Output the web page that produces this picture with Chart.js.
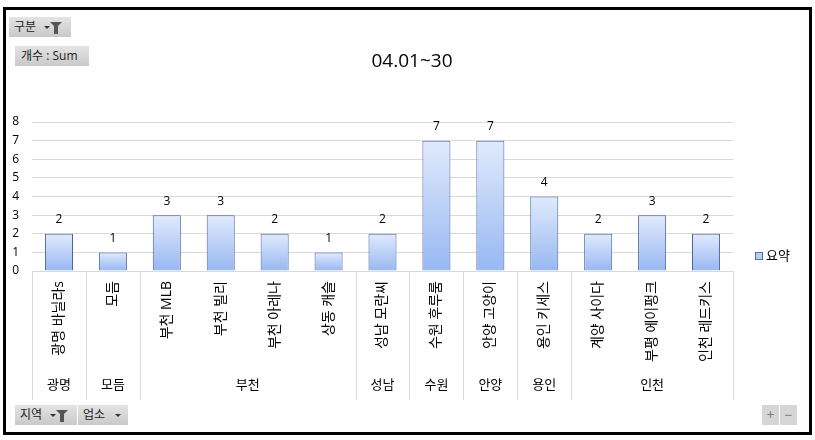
<!DOCTYPE html>
<html>
<head>
<meta charset="utf-8">
<script src="https://cdn.jsdelivr.net/npm/chart.js@4"></script>
<style>
  body { margin: 0; background: #fff; }
  #wrap { position: relative; width: 815px; height: 440px; overflow: hidden; font-family: 'Open Sans', 'Noto Sans CJK KR', sans-serif; }
  #c { position: absolute; left: 0; top: 0; }
  .frame { position: absolute; left: 3px; top: 7px; width: 809px; height: 428px; box-sizing: border-box; border: 3.5px solid #000; pointer-events: none; }
  .btn { position: absolute; box-sizing: border-box; height: 20px; font-size: 12px; line-height: 20px; color: #222;
         background: linear-gradient(#e4e4e4, #c9c9c9); padding-left: 5px; white-space: nowrap; }
  .arrow { display: inline-block; width: 0; height: 0; border-left: 3px solid transparent; border-right: 3px solid transparent;
           border-top: 3px solid #333; vertical-align: middle; margin-left: 8px; }
  .funnel { display: inline-block; position: relative; width: 0; height: 0; border-left: 6px solid transparent; border-right: 6px solid transparent;
            border-top: 6px solid #555; vertical-align: middle; margin-top: -6px; }
  .funnel:after { content: ''; position: absolute; left: -2px; top: -2px; width: 4px; height: 8px; background: #555; }
  .zoom { position: absolute; top: 405px; width: 17px; height: 20px; background: #d6d6d6; color: #7a7a7a; font-size: 14px; line-height: 19px; text-align: center; }
</style>
</head>
<body>
<div id="wrap">
  <canvas id="c" width="815" height="440"></canvas>
  <div class="btn" style="left:9px;top:17px;width:62px;">구분<span class="arrow"></span><span class="funnel"></span></div>
  <div class="btn" style="left:15px;top:46px;width:74px;padding-left:6px;">개수 : Sum</div>
  <div class="btn" style="left:15px;top:405px;width:62px;">지역<span class="arrow"></span><span class="funnel"></span></div>
  <div class="btn" style="left:78px;top:405px;width:50px;">업소<span class="arrow" style="margin-left:10px"></span></div>
  <div class="zoom" style="left:762px;">+</div>
  <div class="zoom" style="left:780px;">−</div>
  <div class="frame"></div>
</div>
<script>
const shops = ['광명 바닐라s', '모듬', '부천 MLB', '부천 빌리', '부천 아레나', '상동 캐슬', '성남 모란씨',
               '수원 후루룸', '안양 고양이', '용인 키세스', '계양 사이다', '부평 에이펑크', '인천 레드키스'];
const counts = [2, 1, 3, 3, 2, 1, 2, 7, 7, 4, 2, 3, 2];
const regions = ['광명', '모듬', '부천', '성남', '수원', '안양', '용인', '인천'];
const regionSizes = [1, 1, 4, 1, 1, 1, 1, 3];
const yTicks = [0, 1, 2, 3, 4, 5, 6, 7, 8];
const seriesName = '요약';
const titleText = '04.01~30';

const FONT = "'Open Sans', 'Noto Sans CJK KR', sans-serif";

function barFill(ctx) {
    const chart = ctx.chart;
    const y = chart.scales.y;
    if (!y || ctx.raw == null) return '#b7cff7';
    const top = y.getPixelForValue(ctx.raw);
    const bottom = y.getPixelForValue(0);
    if (!isFinite(top) || !isFinite(bottom) || top === bottom) return '#b7cff7';
    const g = chart.ctx.createLinearGradient(0, top, 0, bottom);
    g.addColorStop(0, '#e1eafc');
    g.addColorStop(1, '#97b8f2');
    return g;
}

// title, values above bars, region row under the shop names, legend on the right
const extras = {
    id: 'extras',
    afterDatasetsDraw(chart) {
        const ctx = chart.ctx;
        ctx.save();
        ctx.fillStyle = '#000';
        ctx.font = '12px ' + FONT;
        ctx.textAlign = 'center';
        ctx.textBaseline = 'middle';
        chart.getDatasetMeta(0).data.forEach((bar, i) => {
            ctx.fillText(String(counts[i]), bar.x, bar.y - 14);
        });
        ctx.restore();
    },
    afterDraw(chart) {
        const ctx = chart.ctx;
        const x = chart.scales.x;
        const area = chart.chartArea;
        const half = (x.getPixelForValue(1) - x.getPixelForValue(0)) / 2;
        ctx.save();
        ctx.fillStyle = '#000';
        ctx.font = '19px ' + FONT;
        ctx.textAlign = 'center';
        ctx.textBaseline = 'middle';
        ctx.fillText(titleText, 412, 62);

        ctx.strokeStyle = '#d9d9d9';
        ctx.lineWidth = 1;
        ctx.font = '13px ' + FONT;
        const edges = [x.getPixelForValue(0) - half];
        let start = 0;
        regionSizes.forEach((n, i) => {
            const left = x.getPixelForValue(start) - half;
            const right = x.getPixelForValue(start + n - 1) + half;
            ctx.fillText(regions[i], (left + right) / 2, 385);
            edges.push(right);
            start += n;
        });
        edges.forEach(e => {
            const px = Math.round(e) + 0.5;
            ctx.beginPath();
            ctx.moveTo(px, area.bottom);
            ctx.lineTo(px, 400);
            ctx.stroke();
        });
        // legend
        const lx = area.right + 22, ly = 256;
        ctx.fillStyle = '#b7cff7';
        ctx.fillRect(lx, ly - 4, 8, 8);
        ctx.strokeStyle = '#4f6fad';
        ctx.strokeRect(lx + 0.5, ly - 3.5, 7, 7);
        ctx.fillStyle = '#000';
        ctx.textAlign = 'left';
        ctx.fillText(chart.data.datasets[0].label, lx + 11, ly);
        ctx.restore();
    }
};

new Chart(document.getElementById('c'), {
    type: 'bar',
    data: {
        labels: shops,
        datasets: [{
            label: seriesName,
            data: counts,
            backgroundColor: barFill,
            borderColor: '#46659f',
            borderWidth: 1,
            borderSkipped: 'bottom',
            categoryPercentage: 1,
            barPercentage: 0.52
        }]
    },
    options: {
        responsive: false,
        animation: false,
        layout: { padding: { left: 8, right: 82, top: 122, bottom: 39 } },
        plugins: {
            legend: { display: false },
            tooltip: { enabled: false },
            title: { display: false }
        },
        scales: {
            x: {
                grid: { display: false, drawTicks: false },
                border: { display: false },
                ticks: {
                    autoSkip: false,
                    minRotation: 90,
                    maxRotation: 90,
                    padding: 10,
                    color: '#000',
                    font: { family: FONT, size: 14 }
                },
                afterFit(scale) { scale.height = 130; }
            },
            y: {
                min: yTicks[0],
                max: yTicks[yTicks.length - 1],
                grid: { color: '#d9d9d9', drawTicks: false },
                border: { display: false },
                ticks: {
                    stepSize: 1,
                    padding: 13,
                    color: '#000',
                    font: { family: FONT, size: 12 }
                },
                afterFit(scale) { scale.width = 24; }
            }
        }
    },
    plugins: [extras]
});
</script>
</body>
</html>
